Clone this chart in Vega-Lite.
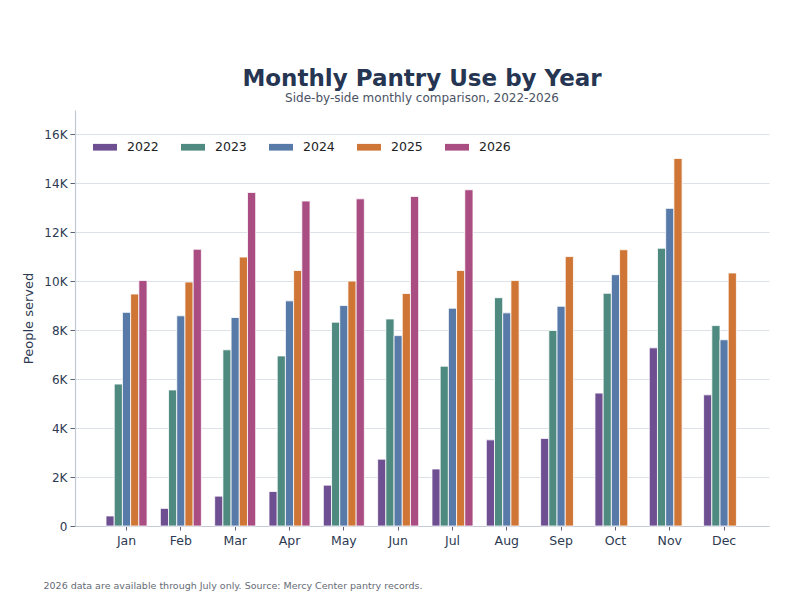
{
  "$schema": "https://vega.github.io/schema/vega-lite/v6.json",
  "width": 694,
  "height": 416,
  "autosize": "none",
  "padding": {"left": 75, "top": 110, "right": 23, "bottom": 86},
  "background": "white",
  "title": {
    "text": "Monthly Pantry Use by Year",
    "subtitle": "Side-by-side monthly comparison, 2022-2026",
    "anchor": "middle",
    "frame": "group",
    "font": "DejaVu Sans",
    "fontSize": 23,
    "fontWeight": "bold",
    "color": "#253552",
    "subtitleFont": "DejaVu Sans",
    "subtitleFontSize": 12,
    "subtitleColor": "#4a5263",
    "subtitlePadding": 2,
    "offset": 6
  },
  "data": {
    "values": [
      {"month": "Jan", "year": "2022", "people": 410},
      {"month": "Jan", "year": "2023", "people": 5800},
      {"month": "Jan", "year": "2024", "people": 8730},
      {"month": "Jan", "year": "2025", "people": 9480},
      {"month": "Jan", "year": "2026", "people": 10030},
      {"month": "Feb", "year": "2022", "people": 720},
      {"month": "Feb", "year": "2023", "people": 5560},
      {"month": "Feb", "year": "2024", "people": 8590},
      {"month": "Feb", "year": "2025", "people": 9970},
      {"month": "Feb", "year": "2026", "people": 11310},
      {"month": "Mar", "year": "2022", "people": 1220},
      {"month": "Mar", "year": "2023", "people": 7200},
      {"month": "Mar", "year": "2024", "people": 8520},
      {"month": "Mar", "year": "2025", "people": 10990},
      {"month": "Mar", "year": "2026", "people": 13630},
      {"month": "Apr", "year": "2022", "people": 1410},
      {"month": "Apr", "year": "2023", "people": 6950},
      {"month": "Apr", "year": "2024", "people": 9200},
      {"month": "Apr", "year": "2025", "people": 10440},
      {"month": "Apr", "year": "2026", "people": 13280},
      {"month": "May", "year": "2022", "people": 1670},
      {"month": "May", "year": "2023", "people": 8330},
      {"month": "May", "year": "2024", "people": 9010},
      {"month": "May", "year": "2025", "people": 10010},
      {"month": "May", "year": "2026", "people": 13370},
      {"month": "Jun", "year": "2022", "people": 2730},
      {"month": "Jun", "year": "2023", "people": 8460},
      {"month": "Jun", "year": "2024", "people": 7780},
      {"month": "Jun", "year": "2025", "people": 9500},
      {"month": "Jun", "year": "2026", "people": 13470},
      {"month": "Jul", "year": "2022", "people": 2330},
      {"month": "Jul", "year": "2023", "people": 6530},
      {"month": "Jul", "year": "2024", "people": 8900},
      {"month": "Jul", "year": "2025", "people": 10440},
      {"month": "Jul", "year": "2026", "people": 13740},
      {"month": "Aug", "year": "2022", "people": 3520},
      {"month": "Aug", "year": "2023", "people": 9330},
      {"month": "Aug", "year": "2024", "people": 8710},
      {"month": "Aug", "year": "2025", "people": 10030},
      {"month": "Sep", "year": "2022", "people": 3580},
      {"month": "Sep", "year": "2023", "people": 7990},
      {"month": "Sep", "year": "2024", "people": 8980},
      {"month": "Sep", "year": "2025", "people": 11010},
      {"month": "Oct", "year": "2022", "people": 5430},
      {"month": "Oct", "year": "2023", "people": 9510},
      {"month": "Oct", "year": "2024", "people": 10270},
      {"month": "Oct", "year": "2025", "people": 11290},
      {"month": "Nov", "year": "2022", "people": 7280},
      {"month": "Nov", "year": "2023", "people": 11350},
      {"month": "Nov", "year": "2024", "people": 12980},
      {"month": "Nov", "year": "2025", "people": 15020},
      {"month": "Dec", "year": "2022", "people": 5360},
      {"month": "Dec", "year": "2023", "people": 8190},
      {"month": "Dec", "year": "2024", "people": 7610},
      {"month": "Dec", "year": "2025", "people": 10340}
    ]
  },
  "mark": {"type": "bar", "stroke": "white", "strokeWidth": 0.8},
  "encoding": {
    "x": {
      "field": "month",
      "type": "nominal",
      "sort": ["Jan", "Feb", "Mar", "Apr", "May", "Jun", "Jul", "Aug", "Sep", "Oct", "Nov", "Dec"],
      "scale": {"paddingInner": 0.245, "paddingOuter": 0.51, "align": 0.56},
      "axis": {
        "title": "2026 data are available through July only. Source: Mercy Center pantry records.",
        "titleX": -32,
        "titleY": 62,
        "titleAlign": "left",
        "titleBaseline": "alphabetic",
        "titleFont": "DejaVu Sans",
        "titleFontSize": 9.5,
        "titleFontWeight": "normal",
        "titleColor": "#666b75",
        "labelAngle": 0,
        "labelFont": "DejaVu Sans",
        "labelFontSize": 12.5,
        "labelColor": "#2d3a52",
        "labelPadding": 4,
        "tickColor": "#5a6375",
        "tickSize": 4,
        "domainColor": "#c3c9d5",
        "domainWidth": 1.2
      }
    },
    "xOffset": {
      "field": "year",
      "type": "nominal",
      "scale": {"paddingInner": 0, "paddingOuter": 0}
    },
    "y": {
      "field": "people",
      "type": "quantitative",
      "scale": {"domain": [0, 17000], "nice": false},
      "axis": {
        "title": "People served",
        "titleFont": "DejaVu Sans",
        "titleFontSize": 13,
        "titleFontWeight": "normal",
        "titleColor": "#2d3a52",
        "titlePadding": 8,
        "values": [0, 2000, 4000, 6000, 8000, 10000, 12000, 14000, 16000],
        "labelExpr": "datum.value == 0 ? '0' : (datum.value / 1000) + 'K'",
        "labelFont": "DejaVu Sans",
        "labelFontSize": 12,
        "labelColor": "#2d3a52",
        "labelPadding": 3,
        "tickColor": "#5a6375",
        "tickSize": 5,
        "domainColor": "#c3c9d5",
        "domainWidth": 1.2,
        "gridColor": "#dde1e8",
        "gridWidth": 1
      }
    },
    "color": {
      "field": "year",
      "type": "nominal",
      "scale": {
        "domain": ["2022", "2023", "2024", "2025", "2026"],
        "range": ["#6e4f91", "#4f8a80", "#577aa8", "#cf7636", "#a94d82"]
      },
      "legend": {
        "title": null,
        "orient": "none",
        "legendX": 18,
        "legendY": 25,
        "direction": "horizontal",
        "columns": 5,
        "columnPadding": 22,
        "symbolType": "M-1,-0.28L1,-0.28L1,0.28L-1,0.28Z",
        "symbolSize": 576,
        "symbolStrokeWidth": 0,
        "labelFont": "DejaVu Sans",
        "labelFontSize": 12.5,
        "labelColor": "#222222",
        "labelOffset": 10
      }
    }
  },
  "config": {
    "view": {"stroke": null},
    "axisX": {"grid": false}
  }
}
